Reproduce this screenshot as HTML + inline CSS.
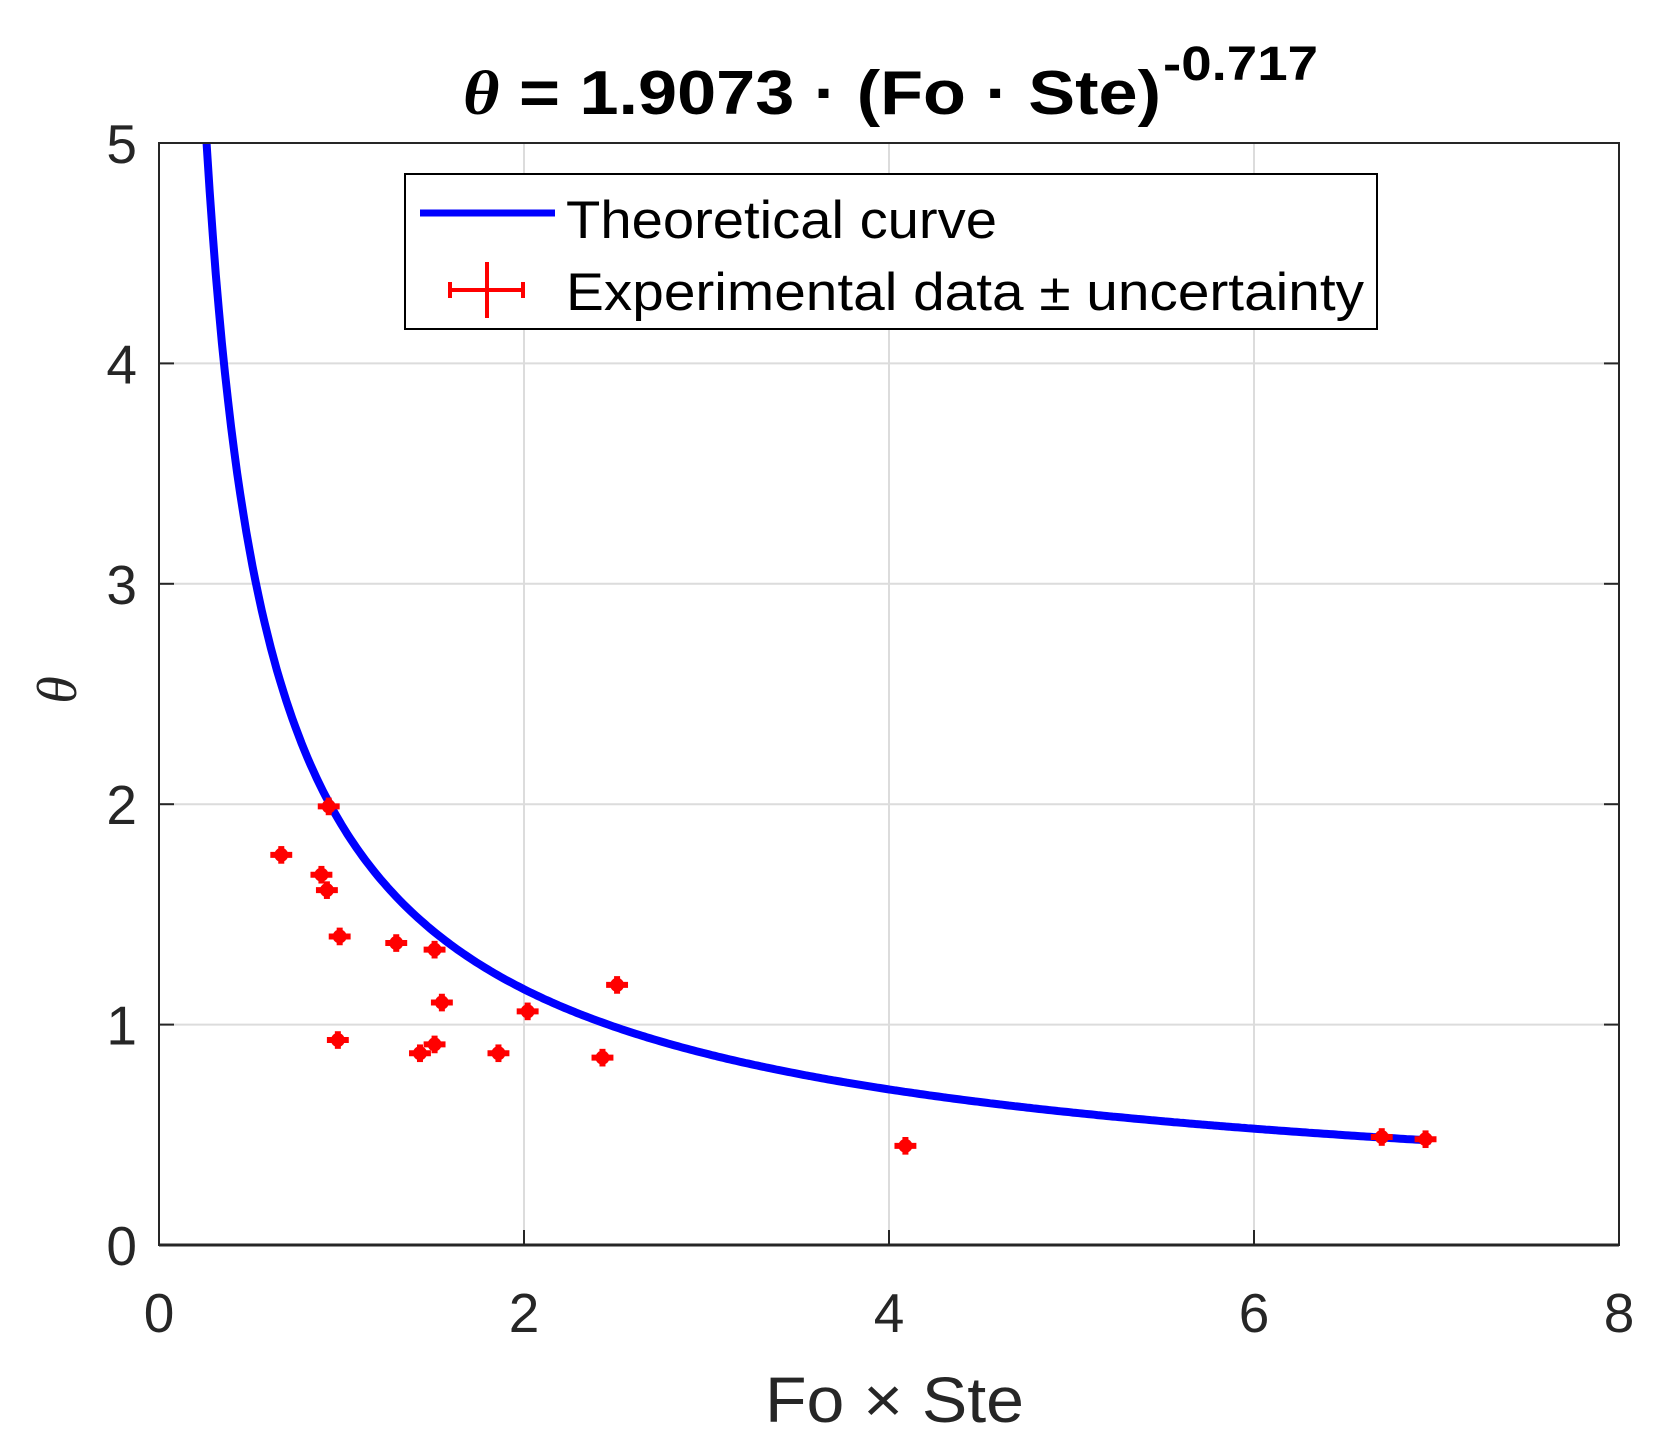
<!DOCTYPE html>
<html><head><meta charset="utf-8"><style>
body{margin:0;background:#fff}
svg{display:block;font-family:"Liberation Sans",Arial,sans-serif}
</style></head><body>
<svg id="chart" width="1673" height="1451" viewBox="0 0 1673 1451" xmlns="http://www.w3.org/2000/svg">
<rect width="1673" height="1451" fill="#fff"/>
<g id="grid"></g>
<g id="curve"></g>
<g id="points"></g>
<rect x="159" y="143" width="1460" height="1102" fill="none" stroke="#262626" stroke-width="2"/>
<line x1="159" y1="1245" x2="1619" y2="1245" stroke="#262626" stroke-width="3"/>
<g id="ticks"></g>
<g>
<text x="463" y="114" textLength="698" lengthAdjust="spacingAndGlyphs" font-size="62" font-weight="bold" fill="#000"><tspan font-family="Liberation Serif" font-style="italic">θ</tspan> = 1.9073 · (Fo · Ste)</text>
<text x="1163" y="80" textLength="155" lengthAdjust="spacingAndGlyphs" font-size="48" font-weight="bold" fill="#000">-0.717</text>
</g>
<text x="765" y="1422" textLength="259" lengthAdjust="spacingAndGlyphs" font-size="64" fill="#262626">Fo × Ste</text>
<text transform="translate(76,690) rotate(-90)" text-anchor="middle" font-size="56" font-family="Liberation Serif" font-style="italic" fill="#262626">θ</text>
<g>
<rect x="405" y="174" width="972" height="155" fill="#fff" stroke="#000" stroke-width="2"/>
<line x1="420" y1="213" x2="555" y2="213" stroke="#0000ff" stroke-width="7"/>
<text x="566" y="238" textLength="431" lengthAdjust="spacingAndGlyphs" font-size="53" fill="#000">Theoretical curve</text>
<g stroke="#ff0000" stroke-width="4"><line x1="450" y1="290" x2="523" y2="290"/><line x1="487" y1="262" x2="487" y2="318"/><line x1="450" y1="282" x2="450" y2="298"/><line x1="523" y1="282" x2="523" y2="298"/></g>
<text x="566" y="310" textLength="798" lengthAdjust="spacingAndGlyphs" font-size="53" fill="#000">Experimental data ± uncertainty</text>
</g>
</svg>
<script>
const xTicks=[0,2,4,6,8];
const yTicks=[0,1,2,3,4,5];
const expX=[0.93,0.67,0.89,0.92,0.99,1.30,1.51,1.55,2.02,2.51,0.98,1.43,1.51,1.86,2.43,4.09,6.70,6.94];
const expY=[1.99,1.77,1.68,1.61,1.40,1.37,1.34,1.10,1.06,1.18,0.93,0.87,0.91,0.87,0.85,0.45,0.49,0.48];
const expXErr=[0.06,0.06,0.06,0.06,0.06,0.06,0.06,0.06,0.06,0.06,0.06,0.06,0.06,0.06,0.06,0.06,0.06,0.06];
const expYErr=[0.04,0.04,0.04,0.04,0.04,0.04,0.04,0.04,0.04,0.04,0.04,0.04,0.04,0.04,0.04,0.04,0.04,0.04];
const fitA=[1.9073];
const fitB=[-0.717];
const fitRange=[0.261,6.97];
const NS='http://www.w3.org/2000/svg';
const X=v=>159+v*(1460/8), Y=v=>1245-v*(1102/5);
function mk(tag,attrs,parent){const e=document.createElementNS(NS,tag);for(const k in attrs)e.setAttribute(k,attrs[k]);parent.appendChild(e);return e;}
const grid=document.getElementById('grid'),ticks=document.getElementById('ticks');
xTicks.forEach(t=>{
 if(t>0&&t<8){const g=mk('line',{x1:X(t),x2:X(t),y1:143,y2:1245,stroke:'#dcdcdc','stroke-width':2},grid);
 
 }
 const tk=mk('line',{x1:X(t),x2:X(t),y1:1245,y2:1230,stroke:'#262626','stroke-width':2},ticks);
 
 
 const tx=mk('text',{x:X(t),y:1332,'text-anchor':'middle','font-size':55,fill:'#262626'},ticks);tx.textContent=t;
 
 
});
yTicks.forEach(t=>{
 if(t>0&&t<5){const g=mk('line',{x1:159,x2:1619,y1:Y(t),y2:Y(t),stroke:'#dcdcdc','stroke-width':2},grid);
 
 }
 const tk=mk('line',{x1:159,x2:174,y1:Y(t),y2:Y(t),stroke:'#262626','stroke-width':2},ticks);
 
 
 const tk2=mk('line',{x1:1604,x2:1619,y1:Y(t),y2:Y(t),stroke:'#262626','stroke-width':2},ticks);
 
 
 const tx=mk('text',{x:137,y:Y(t)+20,'text-anchor':'end','font-size':55,fill:'#262626'},ticks);tx.textContent=t;
 
 
});
let d='';
for(let i=0;i<=400;i++){const x=fitRange[0]+(fitRange[1]-fitRange[0])*i/400;const y=fitA[0]*Math.pow(x,fitB[0]);d+=(i?'L':'M')+X(x).toFixed(1)+','+Y(y).toFixed(1);}
const c=mk('path',{d:d,fill:'none',stroke:'#0000ff','stroke-width':8},document.getElementById('curve'));


const pts=document.getElementById('points');
expX.forEach((x,i)=>{
 const y=expY[i];
 const g=mk('g',{stroke:'#ff0000','stroke-width':6},pts);
 
 
 mk('line',{x1:X(x-expXErr[i]),x2:X(x+expXErr[i]),y1:Y(y),y2:Y(y)},g);
 mk('line',{x1:X(x),x2:X(x),y1:Y(y-expYErr[i]),y2:Y(y+expYErr[i])},g);
 mk('circle',{cx:X(x),cy:Y(y),r:7,fill:'#ff0000',stroke:'none'},g);
});
</script>
</body></html>
